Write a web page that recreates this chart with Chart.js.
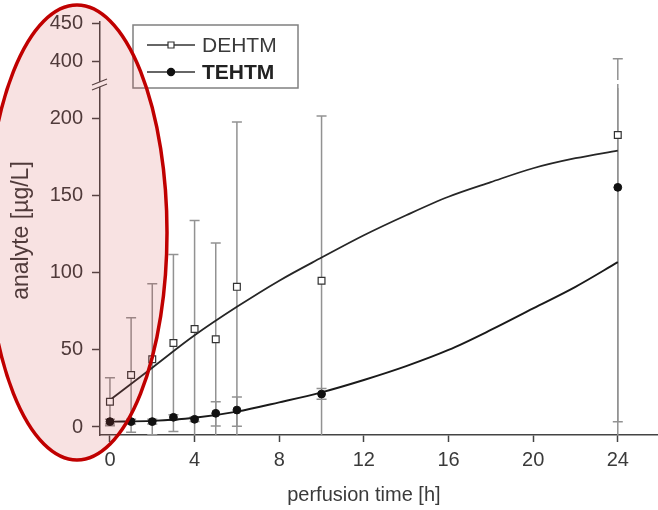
<!DOCTYPE html>
<html><head><meta charset="utf-8">
<style>html,body{margin:0;padding:0;background:#fff;}#wrap{position:relative;width:658px;height:510px;}</style>
<script src="https://cdn.jsdelivr.net/npm/chart.js@4/dist/chart.umd.min.js"></script>
</head><body><div id="wrap"><canvas id="c" width="658" height="510"></canvas></div>
<script>
// ---- data ----
const hours = [0, 1, 2, 3, 4, 5, 6, 10, 24];
const dehtmMean = [16.4, 33.8, 44, 54.5, 63.6, 57, 91, 95, 189.6];
const dehtmLow  = [0.8, -3.4, -5, -3, -6.8, -5.5, -16, -12, -25];
const dehtmHigh = [32, 71, 93, 112, 134, 119.5, 198, 202, 404];
const tehtmMean = [3.5, 3.5, 3.5, 6.3, 5, 8.9, 11, 21.4, 155.6];
const tehtmLow  = [2, 2, 2, 4.5, 3.5, 0.6, 0.5, 18, 3.4];
const tehtmHigh = [5, 5, 5, 8, 6.5, 16.4, 19.5, 25, 308];
const fitHours = [0, 2, 4, 6, 8, 10, 12, 14, 16, 18, 20, 22, 24];
const dehtmFit = [17.5, 38.5, 59.5, 78, 95, 110, 124.5, 137.5, 149.5, 159, 168, 174.5, 179.5];
const tehtmFit = [3.5, 4, 6, 10, 16, 22.5, 30.5, 39.5, 50, 63, 77, 91, 107];
const xTicks = [0, 4, 8, 12, 16, 20, 24];
const yTicksLower = [0, 50, 100, 150, 200];
const yTicksUpper = [400, 450];
const seriesNames = ['DEHTM', 'TEHTM'];
const xTitle = 'perfusion time [h]';
const yTitle = 'analyte [µg/L]';

const SANS = "'Liberation Sans', Arial, sans-serif";
const INK = '#3a3a3a';
const AX = '#444';

const pts = (xs, ys) => xs.map((x, i) => ({x: x, y: ys[i]}));

function yPix(chart, v) {
  const lo = chart.scales.y, hi = chart.scales.y2;
  if (v <= lo.max) return {p: lo.getPixelForValue(Math.max(v, lo.min)), cap: v >= lo.min};
  if (v >= hi.min) return {p: hi.getPixelForValue(Math.min(v, hi.max)), cap: v <= hi.max};
  return {p: lo.top, cap: false};
}

const errorBars = {
  id: 'errorBars',
  beforeDatasetsDraw(chart) {
    const ctx = chart.ctx, xs = chart.scales.x, brk = chart.scales.y.top;
    ctx.save();
    ctx.strokeStyle = '#929292'; ctx.lineWidth = 1.5;
    chart.data.datasets.forEach(ds => {
      if (!ds.errLow) return;
      ds.data.forEach((pt, i) => {
        const x = xs.getPixelForValue(pt.x);
        const a = yPix(chart, ds.errLow[i]), b = yPix(chart, ds.errHigh[i]);
        ctx.beginPath();
        if (b.p < brk - 4 && a.p > brk + 4) {
          ctx.moveTo(x, a.p); ctx.lineTo(x, brk + 4);
          ctx.moveTo(x, brk - 4); ctx.lineTo(x, b.p);
        } else {
          ctx.moveTo(x, a.p); ctx.lineTo(x, b.p);
        }
        if (a.cap) { ctx.moveTo(x - 5, a.p); ctx.lineTo(x + 5, a.p); }
        if (b.cap) { ctx.moveTo(x - 5, b.p); ctx.lineTo(x + 5, b.p); }
        ctx.stroke();
      });
    });
    ctx.restore();
  }
};

const decorations = {
  id: 'decorations',
  afterDraw(chart) {
    const ctx = chart.ctx, ca = chart.chartArea, xs = chart.scales.x;
    const ax = chart.scales.y.right, by = chart.scales.y.top;
    ctx.save();
    // axis break
    ctx.fillStyle = '#fff';
    ctx.beginPath();
    ctx.moveTo(ax - 8, by + 1); ctx.lineTo(ax + 7, by - 5);
    ctx.lineTo(ax + 7, by); ctx.lineTo(ax - 8, by + 6); ctx.closePath();
    ctx.fill();
    ctx.strokeStyle = AX; ctx.lineWidth = 1.3;
    ctx.beginPath();
    ctx.moveTo(ax - 8, by + 1); ctx.lineTo(ax + 7, by - 5);
    ctx.moveTo(ax - 8, by + 6); ctx.lineTo(ax + 7, by);
    ctx.stroke();

    // x title, centred under the tick range
    ctx.fillStyle = INK;
    ctx.font = '20px ' + SANS;
    ctx.textAlign = 'center'; ctx.textBaseline = 'middle';
    const xc = (xs.getPixelForValue(xTicks[0]) + xs.getPixelForValue(xTicks[xTicks.length - 1])) / 2;
    ctx.fillText(xTitle, xc, ca.bottom + 60);

    // y title
    ctx.save();
    ctx.translate(22, (ca.top + ca.bottom) / 2 + 2);
    ctx.rotate(-Math.PI / 2);
    ctx.fillStyle = INK;
    ctx.font = '23px ' + SANS;
    ctx.textAlign = 'center'; ctx.textBaseline = 'middle';
    ctx.fillText(yTitle, 0, 0);
    ctx.restore();

    // legend
    const lx = ca.left + 33, ly = ca.top + 3;
    ctx.strokeStyle = '#808080'; ctx.lineWidth = 1.5;
    ctx.strokeRect(lx, ly, 165, 63);
    const rows = [{ds: chart.data.datasets[0], y: ly + 20, weight: 'normal', col: INK},
                  {ds: chart.data.datasets[1], y: ly + 47, weight: 'bold', col: '#222'}];
    rows.forEach(r => {
      ctx.strokeStyle = '#333'; ctx.lineWidth = 1.5;
      ctx.beginPath(); ctx.moveTo(lx + 14, r.y); ctx.lineTo(lx + 62, r.y); ctx.stroke();
      const cx = lx + 38;
      ctx.beginPath();
      if (r.ds.pointStyle === 'rect') {
        ctx.rect(cx - 3, r.y - 3, 6, 6);
      } else {
        ctx.arc(cx, r.y, 3.6, 0, Math.PI * 2);
      }
      ctx.fillStyle = r.ds.backgroundColor; ctx.fill();
      ctx.strokeStyle = r.ds.borderColor; ctx.lineWidth = 1.2; ctx.stroke();
      ctx.fillStyle = r.col;
      ctx.font = r.weight + ' 21px ' + SANS;
      ctx.textAlign = 'left'; ctx.textBaseline = 'middle';
      ctx.fillText(r.ds.label, lx + 69, r.y + 1);
    });

    // highlight ellipse annotation
    ctx.beginPath();
    ctx.ellipse(77, 232.5, 90, 227.5, 0, 0, Math.PI * 2);
    ctx.fillStyle = 'rgba(210,60,60,0.15)';
    ctx.fill();
    ctx.strokeStyle = '#c00000'; ctx.lineWidth = 3.5;
    ctx.stroke();
    ctx.restore();
  }
};

const axisGrid = {drawOnChartArea: false, tickLength: 8, tickWidth: 1.5, tickColor: AX};
const axisBorder = {color: AX, width: 1.5};

new Chart(document.getElementById('c'), {
  type: 'line',
  data: {
    datasets: [
      {label: seriesNames[0], data: pts(hours, dehtmMean), showLine: false, pointStyle: 'rect',
       pointRadius: 4.8, pointHoverRadius: 4.8, backgroundColor: '#fff', borderColor: '#333', borderWidth: 1.2,
       errLow: dehtmLow, errHigh: dehtmHigh, yAxisID: 'y'},
      {label: seriesNames[1], data: pts(hours, tehtmMean), showLine: false, pointStyle: 'circle',
       pointRadius: 3.9, pointHoverRadius: 3.9, backgroundColor: '#111', borderColor: '#111', borderWidth: 1,
       errLow: tehtmLow, errHigh: tehtmHigh, yAxisID: 'y'},
      {label: seriesNames[0] + ' fit', data: pts(fitHours, dehtmFit), pointRadius: 0, borderColor: '#262626',
       borderWidth: 1.8, cubicInterpolationMode: 'monotone', fill: false, yAxisID: 'y'},
      {label: seriesNames[1] + ' fit', data: pts(fitHours, tehtmFit), pointRadius: 0, borderColor: '#1a1a1a',
       borderWidth: 1.9, cubicInterpolationMode: 'monotone', fill: false, yAxisID: 'y'}
    ]
  },
  options: {
    responsive: false, animation: false, devicePixelRatio: 1,
    layout: {autoPadding: false, padding: {top: 22, right: 0, left: 0, bottom: 0}},
    plugins: {legend: {display: false}, tooltip: {enabled: false}},
    scales: {
      x: {
        type: 'linear', min: -0.47, max: 25.9,
        afterBuildTicks: s => { s.ticks = xTicks.map(v => ({value: v})); },
        afterFit: s => { s.height = 75; s.paddingRight = 0; s.paddingLeft = 0; },
        grid: Object.assign({}, axisGrid, {tickLength: 7}), border: axisBorder,
        ticks: {font: {family: SANS, size: 20}, color: INK, padding: 6, maxRotation: 0, autoSkip: false},
        title: {display: false}
      },
      y: {
        type: 'linear', position: 'left', stack: 'left', stackWeight: 351, weight: 0,
        min: -5.2, max: 222.7,
        afterBuildTicks: s => { s.ticks = yTicksLower.map(v => ({value: v})); },
        afterFit: s => { s.width = 100; },
        grid: axisGrid, border: axisBorder,
        ticks: {font: {family: SANS, size: 20}, color: INK, padding: 9}
      },
      y2: {
        type: 'linear', position: 'left', stack: 'left', stackWeight: 62, weight: 1,
        min: 371, max: 452,
        afterBuildTicks: s => { s.ticks = yTicksUpper.map(v => ({value: v})); },
        afterFit: s => { s.width = 100; },
        grid: axisGrid, border: axisBorder,
        ticks: {font: {family: SANS, size: 20}, color: INK, padding: 9}
      }
    }
  },
  plugins: [errorBars, decorations]
});
</script></body></html>
